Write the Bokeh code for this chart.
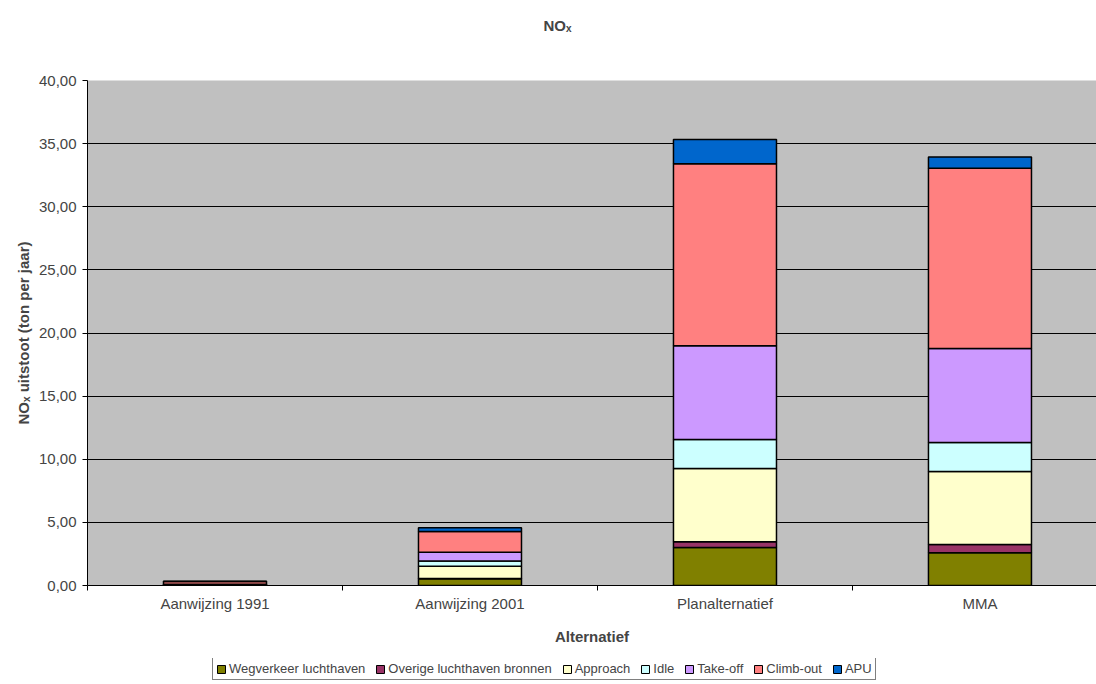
from bokeh.plotting import figure
from bokeh.layouts import column
from bokeh.models import (Range1d, FixedTicker, CustomJSTickFormatter, Legend, LegendItem,
                          ColumnDataSource, Label)
from bokeh.embed import file_html
from bokeh.resources import INLINE

categories = ["Aanwijzing 1991", "Aanwijzing 2001", "Planalternatief", "MMA"]
series_names = ["Wegverkeer luchthaven", "Overige luchthaven bronnen", "Approach",
                "Idle", "Take-off", "Climb-out", "APU"]
wegverkeer = [0.05, 0.53, 3.01, 2.59]
overige = [0.00, 0.02, 0.45, 0.66]
approach = [0.02, 0.98, 5.81, 5.78]
idle = [0.01, 0.42, 2.29, 2.30]
takeoff = [0.02, 0.69, 7.44, 7.44]
climbout = [0.22, 1.64, 14.40, 14.28]
apu = [0.02, 0.29, 1.93, 0.90]
colors = ["#808000", "#993366", "#FFFFCC", "#CCFFFF", "#CC99FF", "#FF8080", "#0066CC"]
y_ticks = [0, 5, 10, 15, 20, 25, 30, 35, 40]

FONT = "Liberation Sans"
FS = "15px"

xpos = [i + 0.5 for i in range(len(categories))]
keys = ["weg", "ov", "app", "idle", "to", "co", "apu"]
data = dict(x=xpos, weg=wegverkeer, ov=overige, app=approach, idle=idle,
            to=takeoff, co=climbout, apu=apu)
source = ColumnDataSource(data)
XR = (0, 3.957)

# ---- title strip (frame aligned with the chart frame, which starts 87px in) ----
tfig = figure(width=1096, height=50, x_range=Range1d(0, 1), y_range=Range1d(0, 1),
              output_backend="svg", toolbar_location=None, title=None,
              x_axis_location=None, y_axis_location=None, min_border=0)
tfig.outline_line_color = None
tfig.grid.grid_line_color = None
tfig.add_layout(Label(x=470, y=25, x_units="screen", y_units="screen", text="NOₓ",
                      text_align="center", text_baseline="middle", text_font=FONT,
                      text_font_size=FS, text_font_style="bold"))

# ---- main chart ----
p = figure(width=1096, height=608, x_range=Range1d(*XR), y_range=Range1d(0, 40),
           output_backend="svg", toolbar_location=None, title=None,
           min_border_left=87, min_border_right=0, min_border_top=30, min_border_bottom=73,
           background_fill_color="#C0C0C0", border_fill_color="white")

renderers = p.vbar_stack(keys, x="x", width=0.404, source=source, color=colors,
                         line_color="black", line_width=1.5)

p.outline_line_color = None
p.xgrid.grid_line_color = None
p.ygrid.grid_line_color = "black"
p.ygrid.grid_line_width = 1
p.ygrid.ticker = FixedTicker(ticks=y_ticks)

ya = p.yaxis[0]
ya.ticker = FixedTicker(ticks=y_ticks)
ya.formatter = CustomJSTickFormatter(code="return tick.toFixed(2).replace('.', ',');")
ya.axis_label = "NOₓ uitstoot (ton per jaar)"
ya.axis_label_text_font = FONT
ya.axis_label_text_font_size = FS
ya.axis_label_text_font_style = "bold"
ya.axis_label_standoff = 4
ya.major_label_text_font = FONT
ya.major_label_text_font_size = FS
ya.major_label_standoff = 6
ya.major_tick_out = 5
ya.major_tick_in = 0
ya.minor_tick_line_color = None
ya.axis_line_color = "black"

xa = p.xaxis[0]
xa.ticker = FixedTicker(ticks=xpos, minor_ticks=[0, 1, 2, 3, 4])
xa.major_label_overrides = {x: c for x, c in zip(xpos, categories)}
xa.major_tick_line_color = None
xa.major_tick_out = 0
xa.major_tick_in = 0
xa.minor_tick_out = 5
xa.minor_tick_in = 0
xa.minor_tick_line_color = "black"
xa.major_label_standoff = 4
xa.major_label_text_font = FONT
xa.major_label_text_font_size = FS
xa.axis_label = "Alternatief"
xa.axis_label_text_font = FONT
xa.axis_label_text_font_size = FS
xa.axis_label_text_font_style = "bold"
xa.axis_label_standoff = 13
xa.axis_line_color = "black"

# ---- legend strip (same stacked data, drawn outside its visible range) ----
lfig = figure(width=1096, height=26, x_range=Range1d(*XR), y_range=Range1d(100, 101),
              output_backend="svg", toolbar_location=None, title=None,
              x_axis_location=None, y_axis_location=None, min_border=0)
lfig.outline_line_color = None
lfig.grid.grid_line_color = None
lrenderers = lfig.vbar_stack(keys, x="x", width=0.404, source=source, color=colors,
                             line_color="black", line_width=1)

items = [LegendItem(label=n, renderers=[r]) for n, r in zip(series_names, lrenderers)]
legend = Legend(items=items, orientation="horizontal", location=(125, 4),
                label_text_font=FONT, label_text_font_size="13px",
                glyph_width=10, glyph_height=10, label_standoff=3, spacing=10,
                padding=3, margin=0, border_line_color="black", border_line_width=1,
                background_fill_color="white", background_fill_alpha=1,
                label_height=13)
lfig.add_layout(legend, "center")

layout = column(tfig, p, lfig, spacing=0)
open("out.html", "w").write(file_html(layout, INLINE))
